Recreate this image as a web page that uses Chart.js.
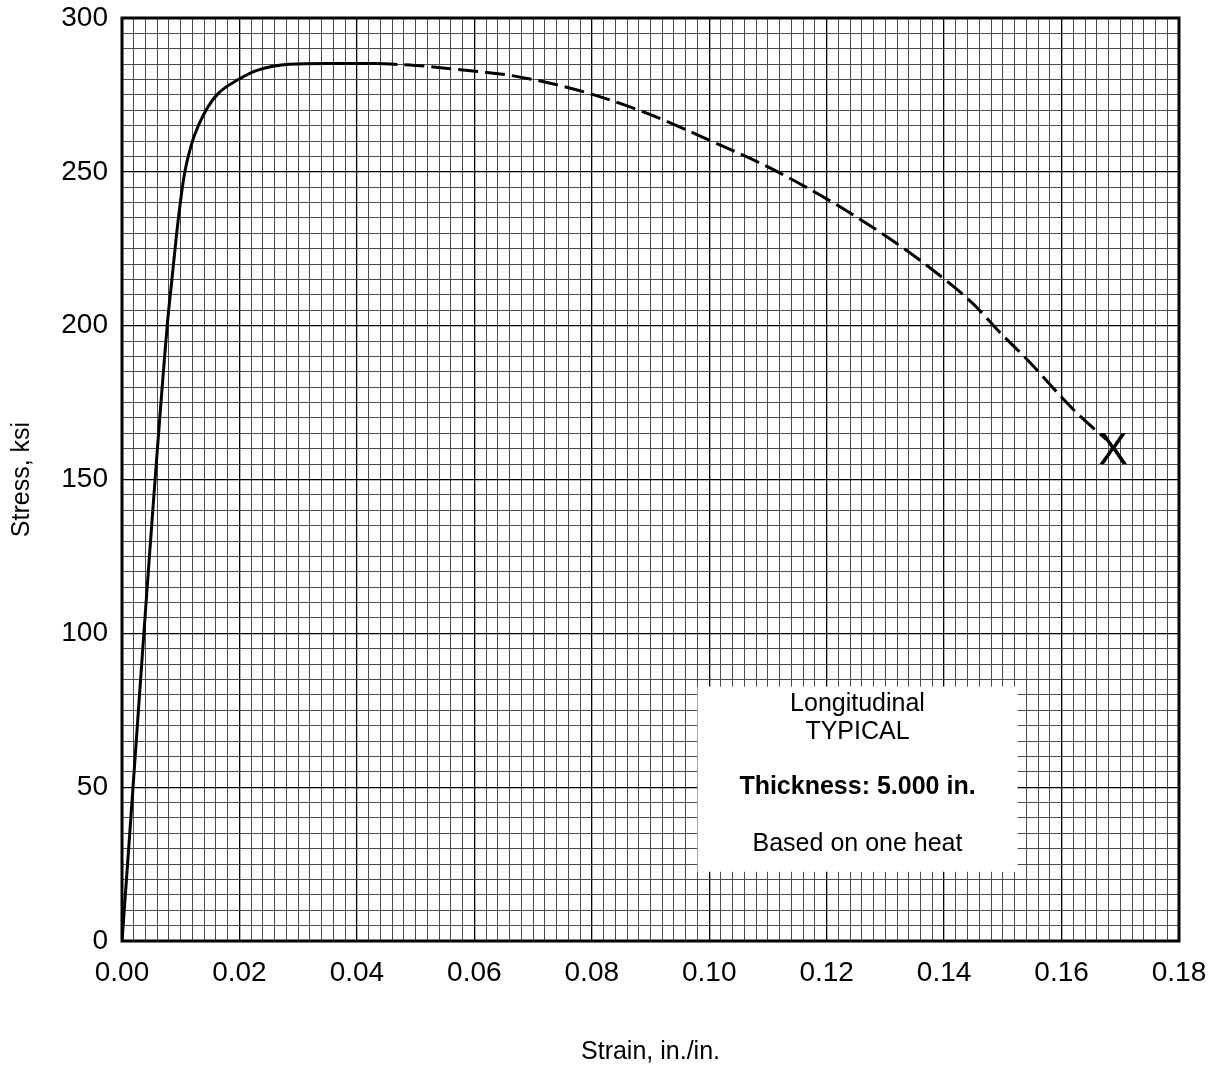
<!DOCTYPE html>
<html>
<head>
<meta charset="utf-8">
<script src="https://cdn.jsdelivr.net/npm/chart.js@4.4.1/dist/chart.umd.min.js"></script>
<style>
  html, body { margin: 0; padding: 0; background: #fff; }
  #wrap { width: 1217px; height: 1070px; }
</style>
</head>
<body>
<div id="wrap"><canvas id="chart" width="1217" height="1070"></canvas></div>
<script>
// Solid part of the curve (measured)
const strainSolid = [0, 0.0077, 0.0085, 0.0092, 0.0100, 0.0107, 0.0120, 0.0130, 0.0146, 0.0164, 0.0198, 0.0230, 0.0285, 0.0350, 0.0435];
const stressSolid = [0, 200, 215, 228, 241, 250, 260, 265, 271, 275.5, 280, 283, 285, 285.2, 285.2];

// Dashed part (extrapolated region)
const strainDash = [0.0435, 0.050, 0.057, 0.0656, 0.072, 0.0797, 0.090, 0.100, 0.110, 0.120, 0.126, 0.133, 0.140, 0.145, 0.1494, 0.1545, 0.1582, 0.1625, 0.1676];
const stressDash = [285.2, 284.6, 283.3, 281.5, 279.2, 275.4, 268.6, 260.3, 251.6, 241.2, 234.2, 225.3, 215.2, 207, 198, 188.3, 180.5, 171.8, 163];

// Fracture point
const strainFracture = [0.1688];
const stressFracture = [159.5];

const xMajorLabels = ['0.00', '0.02', '0.04', '0.06', '0.08', '0.10', '0.12', '0.14', '0.16', '0.18'];
const yMajorLabels = [0, 50, 100, 150, 200, 250, 300];

const noteLines = ['Longitudinal', 'TYPICAL', '', 'Thickness: 5.000 in.', '', 'Based on one heat'];

const FONT = "Arial, 'Liberation Sans', sans-serif";

function toXY(xs, ys) {
    return xs.map((x, i) => ({x: x, y: ys[i]}));
}

function isMajorX(v) { return Math.round(v * 1000) % 20 === 0; }
function isMajorY(v) { return Math.round(v) % 50 === 0; }

// white note box, frame and the X at fracture
const overlayPlugin = {
    id: 'overlay',
    beforeDatasetsDraw(chart) {
        const {ctx, scales: {x, y}} = chart;
        const left = x.getPixelForValue(0.098);
        const right = x.getPixelForValue(0.1525);
        const top = y.getPixelForValue(82.7);
        const bottom = y.getPixelForValue(22.5);
        ctx.save();
        ctx.fillStyle = '#fff';
        ctx.fillRect(left, top, right - left, bottom - top);
        ctx.fillStyle = '#000';
        ctx.textAlign = 'center';
        ctx.textBaseline = 'middle';
        const cx = (left + right) / 2;
        // offsets of each line from the top of the box
        const rows = [18, 46, 73, 101, 129, 158];
        noteLines.forEach((line, i) => {
            if (!line) return;
            ctx.font = (i === 3 ? 'bold ' : '') + '25px ' + FONT;
            ctx.fillText(line, cx, top + rows[i]);
        });
        ctx.restore();
    },
    afterDraw(chart) {
        const {ctx, chartArea: a, scales: {x, y}} = chart;
        ctx.save();
        ctx.strokeStyle = '#000';
        ctx.lineWidth = 3;
        ctx.strokeRect(a.left, a.top, a.right - a.left, a.bottom - a.top);
        ctx.font = '44px ' + FONT;
        ctx.textAlign = 'center';
        ctx.textBaseline = 'middle';
        ctx.fillStyle = '#000';
        strainFracture.forEach((sx, i) => {
            ctx.fillText('X', x.getPixelForValue(sx), y.getPixelForValue(stressFracture[i]) + 2);
        });
        ctx.restore();
    }
};

new Chart(document.getElementById('chart'), {
    type: 'scatter',
    data: {
        datasets: [{
            label: 'Stress-strain',
            data: toXY(strainSolid, stressSolid),
            showLine: true,
            borderColor: '#000',
            borderWidth: 3,
            pointRadius: 0,
            cubicInterpolationMode: 'monotone'
        }, {
            label: 'Stress-strain (dashed)',
            data: toXY(strainDash, stressDash),
            showLine: true,
            borderColor: '#000',
            borderWidth: 3,
            borderDash: [20, 7],
            pointRadius: 0,
            cubicInterpolationMode: 'monotone'
        }]
    },
    options: {
        responsive: false,
        animation: false,
        devicePixelRatio: 1,
        layout: {
            padding: {top: 18, right: 38, left: 0, bottom: 0}
        },
        plugins: {
            legend: { display: false },
            tooltip: { enabled: false }
        },
        scales: {
            x: {
                type: 'linear',
                min: 0,
                max: 0.18,
                border: { display: false },
                grid: {
                    drawTicks: false,
                    color: ctx => isMajorX(ctx.tick.value) ? '#000' : '#4a4a4a',
                    lineWidth: ctx => isMajorX(ctx.tick.value) ? 1.3 : 1
                },
                ticks: {
                    stepSize: 0.002,
                    autoSkip: false,
                    maxRotation: 0,
                    padding: 15,
                    color: '#000',
                    font: { family: FONT, size: 28 },
                    callback: v => isMajorX(v) ? xMajorLabels[Math.round(v * 50)] : ''
                },
                title: {
                    display: true,
                    text: 'Strain, in./in.',
                    color: '#000',
                    font: { family: FONT, size: 25 },
                    padding: { top: 0, bottom: 3 }
                },
                afterFit: scale => {
                    scale.height = 129;
                    scale.paddingLeft = 0;
                    scale.paddingRight = 0;
                }
            },
            y: {
                type: 'linear',
                min: 0,
                max: 300,
                border: { display: false },
                grid: {
                    drawTicks: false,
                    color: ctx => isMajorY(ctx.tick.value) ? '#000' : '#4a4a4a',
                    lineWidth: ctx => isMajorY(ctx.tick.value) ? 1.3 : 1
                },
                ticks: {
                    stepSize: 5,
                    autoSkip: false,
                    padding: 14,
                    color: '#000',
                    font: { family: FONT, size: 28 },
                    callback: v => isMajorY(v) ? String(yMajorLabels[Math.round(v / 50)]) : ''
                },
                title: {
                    display: true,
                    text: 'Stress, ksi',
                    color: '#000',
                    font: { family: FONT, size: 25 },
                    padding: { top: 7, bottom: 0 }
                },
                afterFit: scale => {
                    scale.width = 122;
                    scale.paddingTop = 0;
                    scale.paddingBottom = 0;
                }
            }
        }
    },
    plugins: [overlayPlugin]
});
</script>
</body>
</html>
